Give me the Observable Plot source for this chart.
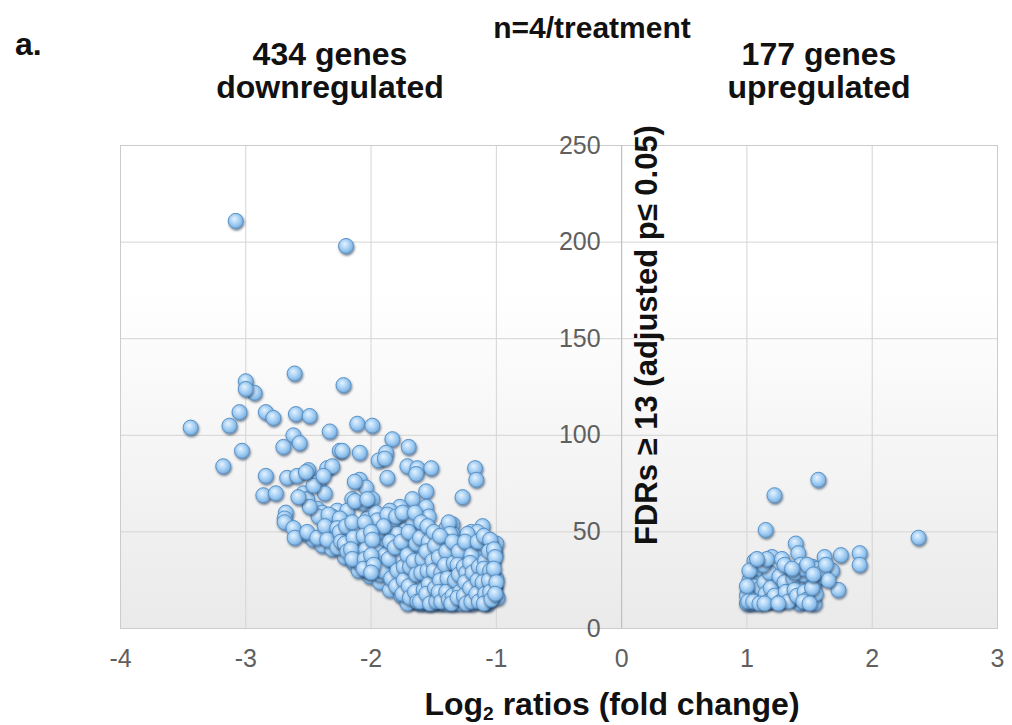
<!DOCTYPE html>
<html><head><meta charset="utf-8">
<script src="https://cdn.jsdelivr.net/npm/d3@7"></script>
<script src="https://cdn.jsdelivr.net/npm/@observablehq/plot@0.6"></script>
<style>
body{margin:0;background:#fff;}
#wrap{position:relative;width:1012px;height:725px;overflow:hidden;font-family:"Liberation Sans",Arial,sans-serif;}
.t{position:absolute;font-weight:bold;color:#111;white-space:nowrap;line-height:1;}
.c{transform:translateX(-50%);text-align:center;}
.h{position:absolute;font-weight:bold;color:#111;white-space:nowrap;font-size:32px;line-height:33px;text-align:center;transform:translateX(-50%);}
.yl{position:absolute;font-weight:bold;color:#111;white-space:nowrap;line-height:1;transform:translate(-50%,-50%) rotate(-90deg);}
sub{font-size:0.6em;vertical-align:-0.25em;}
</style></head><body><div id="wrap"></div>
<script>
const xTicks = [-4, -3, -2, -1, 0, 1, 2, 3];
const yTicks = [0, 50, 100, 150, 200, 250];

// log2 fold change, FDR score — downregulated genes
const down = [
[-3.08,211],[-2.20,198],
[-3.44,104],[-2.61,132],[-3.00,128],[-2.93,122],[-3.00,124],[-2.22,126],[-3.05,112],[-3.13,105],[-2.84,112],[-2.78,109],[-2.60,111],[-2.49,110],[-2.33,102],[-2.62,100],[-2.57,96],[-2.70,94],[-3.03,92],[-3.18,84],[-2.25,92],[-2.84,79],[-2.67,78],[-2.59,79],[-2.50,82],[-2.35,83],[-2.31,84],[-2.42,76],[-2.37,70],[-2.86,69],[-2.76,70],[-2.54,70],[-2.51,67],[-2.68,60],[-2.43,62],[-2.27,61],
[-2.11,106],[-1.99,105],[-2.23,92],[-2.09,91],[-1.83,98],[-1.70,94],[-1.88,91],[-1.94,87],[-1.71,84],[-1.63,83],[-1.52,83],[-1.64,80],[-1.17,83],[-1.16,77],[-1.87,78],[-2.09,77],[-2.04,73],[-1.56,71],[-1.27,68],[-2.15,67],[-1.99,67],[-1.67,67],[-1.77,63],[-1.56,63],[-1.54,58],[-1.85,61],[-1.95,58],[-2.03,57],[-2.19,61],[-1.35,54],[-1.11,53],[-1.20,50],[-1.40,52],[-1.59,52],[-1.71,54],[-1.83,55],
[-1.89,88],[-2.46,74],[-2.38,79],[-2.13,76],[-2.07,65],[-2.24,56],[-2.31,58],[-2.52,81],[-2.39,60],[-2.34,56],[-2.69,57],[-2.52,49],[-2.46,46],[-2.39,43],[-2.31,41],[-2.21,37],[-2.14,34],[-2.10,30],[-2.01,27],[-1.93,24],[-1.85,20],[-1.76,17],[-1.68,14],[-1.56,13],[-1.45,13],[-1.34,13],[-1.23,14],[-1.11,15],
[-1.96,60],[-1.73,51],[-1.82,49],[-1.90,46],[-1.99,43],[-2.06,40],[-2.21,49],[-2.30,51],[-2.35,55],[-2.42,58],[-2.49,63],[-2.58,68],
[-2.13,66],[-2.03,67],[-2.69,55],[-2.62,52],[-2.61,47],[-2.51,50],[-2.43,47],[-2.34,59],[-2.25,57],[-2.37,53],[-2.27,52],[-2.35,46],[-2.27,42],[-2.19,48],[-2.17,43],[-2.11,38],[-2.09,34],[-2.03,52],[-1.95,56],[-2.01,44],[-1.93,46],[-1.87,59],[-1.79,49],[-1.85,40],[-1.95,36],[-2.03,30],[-1.93,28],[-1.85,32],[-1.77,35],[-1.71,42],[-1.67,47],[-1.67,37],[-1.71,26],[-1.79,23],[-1.63,23],[-1.71,18],
[-1.00,44],[-1.01,39],[-1.04,35],[-1.00,26],[-1.01,21],[-0.99,16],[-1.07,13],[-1.16,15],[-1.24,20],[-1.29,25],[-1.37,28],[-1.45,33],[-1.53,38],[-1.61,42],[-1.67,56],[-1.35,49],[-1.40,44],[-1.29,44],[-1.19,42],[-1.11,40],[-1.16,37],[-1.24,37],[-1.35,39],[-1.48,39],[-1.56,34],[-1.63,32],[-1.75,21],[-1.67,21],[-1.59,25],[-1.51,26],[-1.43,23],[-1.35,21],[-1.27,23],[-1.19,26],[-1.11,28],[-1.08,23],[-1.13,20],[-1.20,16],[-1.27,15],[-1.35,15],[-1.43,16],[-1.51,16],[-1.59,16],[-1.67,15],[-1.71,13],[-1.61,13],[-1.51,13],[-1.40,13],[-1.29,13],[-1.19,13],[-1.08,14],
[-1.04,43],[-1.03,34],[-1.03,27],[-1.02,22],[-1.15,50],[-1.23,49],[-1.38,55],[-1.37,49],[-1.41,45],[-1.44,41],
[-1.95,50],[-1.96,40],[-1.94,32],[-1.90,53],[-1.89,38],[-1.91,30],[-1.85,45],[-1.86,36],[-1.84,26],[-1.80,58],[-1.81,42],[-1.79,30],[-1.80,22],
[-1.75,60],[-1.76,45],[-1.74,32],[-1.74,25],[-1.75,18],[-1.70,50],[-1.71,38],[-1.69,32],[-1.70,22],[-1.69,16],
[-1.65,60],[-1.64,44],[-1.66,35],[-1.64,28],[-1.65,19],[-1.63,14],[-1.60,55],[-1.61,47],[-1.59,36],[-1.60,29],[-1.58,20],[-1.61,14],
[-1.55,53],[-1.54,45],[-1.56,40],[-1.55,30],[-1.54,23],[-1.56,18],[-1.53,13],[-1.50,50],[-1.49,43],[-1.51,35],[-1.50,30],[-1.49,21],[-1.48,14],
[-1.45,48],[-1.46,37],[-1.44,29],[-1.45,25],[-1.46,19],[-1.44,14],[-1.40,40],[-1.41,33],[-1.39,26],[-1.40,19],[-1.38,15],
[-1.35,45],[-1.34,34],[-1.33,25],[-1.35,17],[-1.36,13],[-1.30,40],[-1.31,33],[-1.30,28],[-1.29,19],[-1.31,16],
[-1.25,45],[-1.26,32],[-1.24,29],[-1.25,24],[-1.26,17],[-1.24,13],[-1.20,38],[-1.21,34],[-1.19,29],[-1.21,21],[-1.20,14],
[-1.15,45],[-1.14,32],[-1.15,25],[-1.16,18],[-1.14,14],[-1.10,48],[-1.09,35],[-1.10,31],[-1.11,24],[-1.09,18],[-1.10,13],
[-1.05,46],[-1.06,40],[-1.05,30],[-1.06,25],[-1.05,19],[-1.04,15],[-1.02,41],[-1.01,37],[-1.02,31],[-1.00,24],[-1.01,18],
[-2.25,50],[-2.24,45],[-2.20,53],[-2.21,44],[-2.19,40],[-2.15,55],[-2.14,47],[-2.16,41],[-2.15,36],
[-2.05,55],[-2.06,48],[-2.04,41],[-2.05,36],[-2.06,31],[-2.00,50],[-1.99,46],[-2.00,38],[-1.98,33],[-2.00,29]
];

// upregulated genes
const up = [
[1.57,77],[1.22,69],[1.15,51],[2.37,47],[1.39,44],[1.41,39],[1.06,35],[1.20,37],[1.24,32],[1.34,30],[1.43,33],[1.52,32],[1.56,31],[1.62,37],[1.68,30],[1.75,38],[1.90,39],[1.90,33],[1.73,20],[1.08,28],[1.02,25],[1.12,26],[1.24,23],[1.34,22],[1.43,22],[1.54,23],[1.58,27],[1.50,26],[1.02,18],[1.12,17],[1.20,14],[1.28,18],[1.42,13],[1.54,13],[1.00,13],[1.04,13],[1.55,18],[1.36,16],
[1.01,21],[1.03,16],[1.05,22],[1.07,19],[1.09,15],[1.10,31],[1.11,21],[1.14,24],[1.15,18],[1.17,14],[1.18,29],[1.19,21],[1.22,17],[1.26,27],[1.27,14],[1.30,24],[1.31,19],[1.33,14],[1.37,26],[1.38,20],[1.40,17],[1.45,28],[1.46,19],[1.48,15],[1.52,21],[1.60,29],[1.63,33],[1.65,25],[1.45,14],[1.38,29],[1.13,33],[1.16,36],[1.28,36],[1.30,33],[1.46,31],[1.48,33],[1.53,28],[1.36,31],[1.02,30],[1.08,36],[1.00,17],[1.00,22],[1.01,14],[1.05,14],[1.10,13],[1.14,13],[1.25,13],[1.50,13]
];

const dotOpts = {x: d => d[0], y: d => d[1], r: 7.5, fill: "url(#ball)", stroke: "#5a92c6", strokeWidth: 1};

const chart = Plot.plot({
  width: 1012, height: 725,
  marginLeft: 120, marginRight: 15, marginTop: 145, marginBottom: 97,
  x: {domain: [-4, 3], axis: null},
  y: {domain: [0, 250], axis: null},
  style: {fontFamily: '"Liberation Sans", Arial, sans-serif', background: "transparent", overflow: "visible"},
  marks: [
    Plot.frame({fill: "url(#bgGrad)", stroke: null}),
    Plot.gridX(xTicks, {stroke: "#d4d4d4", strokeOpacity: 1}),
    Plot.gridY(yTicks, {stroke: "#d4d4d4", strokeOpacity: 1}),
    Plot.frame({stroke: "#cccccc"}),
    Plot.ruleX([0], {stroke: "#bcbcbc"}),
    Plot.axisX(xTicks, {tickSize: 0, tickPadding: 21, fontSize: 25, fill: "#5f5f5f", tickFormat: d => String(d), label: null}),
    Plot.text(yTicks, {x: 0, y: d => d, text: d => String(d), textAnchor: "end", dx: -21, fontSize: 25, fill: "#5f5f5f"}),
    Plot.dot(down, dotOpts),
    Plot.dot(up, dotOpts)
  ]
});

const ns = "http://www.w3.org/2000/svg";
const defs = document.createElementNS(ns, "defs");
defs.innerHTML = `
<linearGradient id="bgGrad" x1="0" y1="0" x2="0" y2="1">
  <stop offset="0" stop-color="#ffffff"/>
  <stop offset="0.3" stop-color="#ffffff"/>
  <stop offset="1" stop-color="#eaeaea"/>
</linearGradient>
<radialGradient id="ball" cx="0.45" cy="0.45" r="0.6" fx="0.4" fy="0.35">
  <stop offset="0" stop-color="#e6f3ff"/>
  <stop offset="0.5" stop-color="#acd3f5"/>
  <stop offset="1" stop-color="#70aadf"/>
</radialGradient>
<filter id="sh" x="-50%" y="-50%" width="200%" height="200%">
  <feDropShadow dx="0.8" dy="1.8" stdDeviation="1.3" flood-color="#1d3550" flood-opacity="0.6"/>
</filter>`;
chart.insertBefore(defs, chart.firstChild);
chart.querySelectorAll('g[aria-label="dot"] circle').forEach(c => c.setAttribute("filter", "url(#sh)"));

const wrap = document.getElementById("wrap");
wrap.appendChild(chart);

function addText(html, x, baseline, fs, center) {
  const d = document.createElement("div");
  d.className = "t" + (center ? " c" : "");
  d.style.fontSize = fs + "px";
  d.style.left = x + "px";
  d.style.top = (baseline - 0.8465 * fs) + "px";
  d.innerHTML = html;
  wrap.appendChild(d);
}
function addHeader(lines, x, top) {
  const d = document.createElement("div");
  d.className = "h";
  d.style.left = x + "px";
  d.style.top = top + "px";
  d.innerHTML = lines.join("<br>");
  wrap.appendChild(d);
}
addText("a.", 15, 55, 32, false);
addText("n=4/treatment", 592, 38, 30, true);
addHeader(["434 genes", "downregulated"], 330, 38);
addHeader(["177 genes", "upregulated"], 819, 38);
addText("Log<sub>2</sub> ratios (fold change)", 612, 715, 32, true);

const yl = document.createElement("div");
yl.className = "yl";
yl.style.fontSize = "31px";
yl.style.left = "646px";
yl.style.top = "335px";
yl.textContent = "FDRs ≥ 13 (adjusted p≤ 0.05)";
wrap.appendChild(yl);
</script>
</body></html>
